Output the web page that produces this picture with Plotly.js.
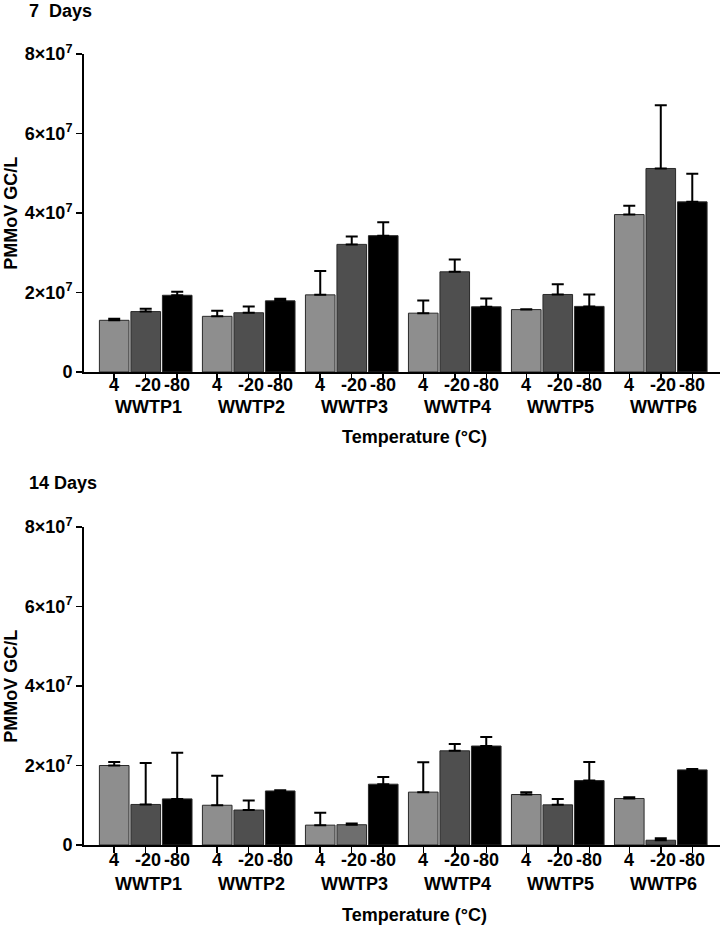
<!DOCTYPE html>
<html>
<head>
<meta charset="utf-8">
<script src="https://cdn.plot.ly/plotly-3.0.1.min.js"></script>
<style>
  html, body { margin: 0; padding: 0; background: #fff; }
  #chart { width: 725px; height: 930px; }
</style>
</head>
<body>
<div id="chart"></div>
<script>
// ---- data ----
const sites = ['WWTP1', 'WWTP2', 'WWTP3', 'WWTP4', 'WWTP5', 'WWTP6'];
const temps = ['4', '-20', '-80'];

// 7 days (GC/L)
const d7_t4      = [1.30e7, 1.40e7, 1.94e7, 1.48e7, 1.57e7, 3.96e7];
const d7_t4_sd   = [0.04e7, 0.14e7, 0.60e7, 0.32e7, 0.01e7, 0.22e7];
const d7_t20     = [1.52e7, 1.49e7, 3.21e7, 2.52e7, 1.95e7, 5.12e7];
const d7_t20_sd  = [0.07e7, 0.16e7, 0.20e7, 0.31e7, 0.26e7, 1.59e7];
const d7_t80     = [1.93e7, 1.79e7, 3.43e7, 1.64e7, 1.65e7, 4.28e7];
const d7_t80_sd  = [0.09e7, 0.05e7, 0.34e7, 0.21e7, 0.30e7, 0.71e7];

// 14 days (GC/L)
const d14_t4     = [2.00e7, 1.00e7, 0.50e7, 1.33e7, 1.27e7, 1.17e7];
const d14_t4_sd  = [0.09e7, 0.74e7, 0.31e7, 0.75e7, 0.06e7, 0.03e7];
const d14_t20    = [1.02e7, 0.88e7, 0.51e7, 2.37e7, 1.01e7, 0.12e7];
const d14_t20_sd = [1.04e7, 0.24e7, 0.03e7, 0.17e7, 0.15e7, 0.05e7];
const d14_t80    = [1.16e7, 1.36e7, 1.53e7, 2.49e7, 1.62e7, 1.89e7];
const d14_t80_sd = [1.16e7, 0.02e7, 0.18e7, 0.23e7, 0.47e7, 0.02e7];

const yTickVals = [0, 2e7, 4e7, 6e7, 8e7];
const yTickText = ['0', '2×10<sup>7</sup>', '4×10<sup>7</sup>', '6×10<sup>7</sup>', '8×10<sup>7</sup>'];

// ---- layout helpers ----
const GROUP = 3.27;            // spacing between site groups (in bar slots)
const pos = (g, k) => g * GROUP + k;
const FONT = 'Liberation Sans, Arial, sans-serif';
const fills = ['#8e8e8e', '#4f4f4f', '#000000'];

function barTrace(vals, sds, k, xa, ya, colorArr) {
  return {
    type: 'bar',
    x: vals.map((_, g) => pos(g, k)),
    y: vals,
    width: 0.94,
    xaxis: xa, yaxis: ya,
    marker: { color: colorArr || fills[k], line: { color: '#2a2a2a', width: 1 } },
    error_y: { type: 'data', symmetric: false, array: sds, arrayminus: sds.map(() => 0),
               color: '#000', thickness: 2, width: 6 },
    showlegend: false, hoverinfo: 'y'
  };
}

const bottom20Colors = d14_t20.map((_, g) => g === 2 ? '#6e6e6e' : fills[1]);

const traces = [
  barTrace(d7_t4, d7_t4_sd, 0, 'x', 'y'),
  barTrace(d7_t20, d7_t20_sd, 1, 'x', 'y'),
  barTrace(d7_t80, d7_t80_sd, 2, 'x', 'y'),
  barTrace(d14_t4, d14_t4_sd, 0, 'x2', 'y2'),
  barTrace(d14_t20, d14_t20_sd, 1, 'x2', 'y2', bottom20Colors),
  barTrace(d14_t80, d14_t80_sd, 2, 'x2', 'y2'),
];

const tickPos = [];
sites.forEach((_, g) => temps.forEach((t, k) => tickPos.push(pos(g, k))));

const xAxisBase = {
  range: [-0.959, 19.23],
  showline: true, linecolor: '#000', linewidth: 2,
  ticks: 'outside', ticklen: 6, tickwidth: 1.5, tickcolor: '#000',
  tickvals: tickPos, showticklabels: false,
  showgrid: false, zeroline: false, fixedrange: true
};
const yAxisBase = {
  range: [0, 8e7],
  showline: true, linecolor: '#000', linewidth: 2,
  ticks: 'outside', ticklen: 6, tickwidth: 1.5, tickcolor: '#000',
  tickvals: yTickVals, ticktext: yTickText,
  tickfont: { family: FONT, size: 18, color: '#000', weight: 'bold' },
  showgrid: false, zeroline: false, fixedrange: true
};

const boldFont = { family: FONT, size: 18, color: '#000', weight: 'bold' };
const annotations = [];
function panelAnnots(xref, yref, title, tickY, labelY, tempY, titleY) {
  sites.forEach((s, g) => {
    temps.forEach((t, k) => annotations.push({
      text: t, xref: xref, x: pos(g, k) + (k === 1 ? 0.08 : 0), yref: yref + ' domain', y: tickY,
      xanchor: 'center', yanchor: 'middle', showarrow: false, font: boldFont, borderpad: 0
    }));
    annotations.push({
      text: s, xref: xref, x: pos(g, 1) + 0.1, yref: yref + ' domain', y: labelY,
      xanchor: 'center', yanchor: 'middle', showarrow: false, font: boldFont, borderpad: 0
    });
  });
  annotations.push({
    text: 'Temperature (°C)', xref: 'paper', x: 0.52, yref: yref + ' domain', y: tempY,
    xanchor: 'center', yanchor: 'middle', showarrow: false, font: boldFont
  });
  annotations.push({
    text: 'PMMoV GC/L', textangle: -90, xref: 'paper', x: -0.115, yref: yref + ' domain', y: 0.5,
    xanchor: 'center', yanchor: 'middle', showarrow: false, font: boldFont
  });
  annotations.push({
    text: title, xref: 'paper', x: -0.089, yref: yref + ' domain', y: titleY,
    xanchor: 'left', yanchor: 'middle', showarrow: false, font: boldFont
  });
}
panelAnnots('x', 'y', '7  Days', -0.042, -0.11, -0.205, 1.135);
panelAnnots('x2', 'y2', '14 Days', -0.047, -0.123, -0.22, 1.14);

const layout = {
  width: 725, height: 930,
  margin: { l: 84, r: 5, t: 54, b: 85 },
  paper_bgcolor: '#fff', plot_bgcolor: '#fff',
  barmode: 'overlay',
  xaxis: Object.assign({}, xAxisBase, { domain: [0, 1], anchor: 'y' }),
  yaxis: Object.assign({}, yAxisBase, { domain: [0.598, 1], anchor: 'x' }),
  xaxis2: Object.assign({}, xAxisBase, { domain: [0, 1], anchor: 'y2' }),
  yaxis2: Object.assign({}, yAxisBase, { domain: [0, 0.402], anchor: 'x2' }),
  annotations: annotations,
  showlegend: false
};

Plotly.newPlot('chart', traces, layout, { displayModeBar: false, staticPlot: true });
</script>
</body>
</html>
